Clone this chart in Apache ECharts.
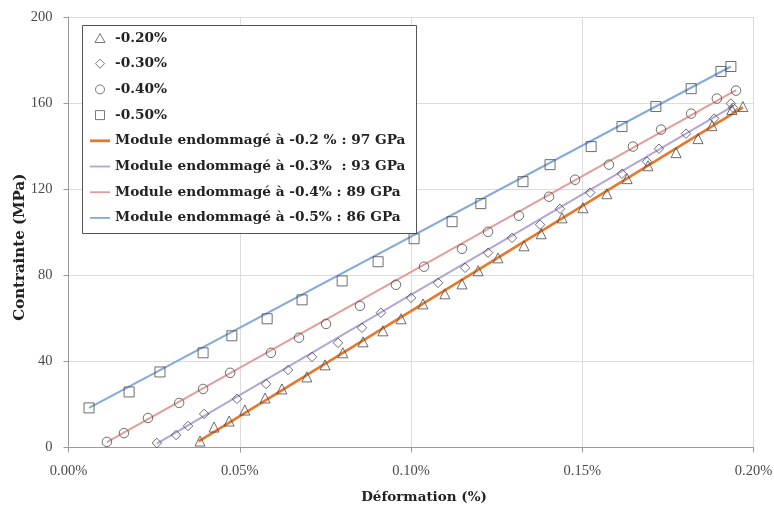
<!DOCTYPE html>
<html>
<head>
<meta charset="utf-8">
<script src="https://cdn.jsdelivr.net/npm/echarts@6/dist/echarts.min.js"></script>
<style>html,body{margin:0;padding:0;background:#fff;}#c{width:774px;height:505px;}</style>
</head>
<body>
<div id="c"></div>
<script>
// strain (%) values
const tri_x = [0.0384,0.0425,0.0469,0.0515,0.0574,0.0623,0.0696,0.0749,0.0801,0.0860,0.0918,0.0971,0.1035,0.1099,0.1149,0.1196,0.1254,0.1330,0.1380,0.1441,0.1502,0.1572,0.1631,0.1692,0.1774,0.1838,0.1879,0.1937,0.1969];
const tri_y = [3.0,9.5,12.3,17.4,23.0,27.2,32.8,38.4,44.0,49.1,54.2,59.8,66.7,71.4,76.0,82.1,88.1,93.7,99.3,106.7,111.4,117.9,124.9,130.9,137.0,143.5,149.5,157.0,158.4];

const dia_x = [0.0258,0.0314,0.0349,0.0396,0.0492,0.0577,0.0641,0.0711,0.0787,0.0857,0.0912,0.1000,0.1079,0.1158,0.1225,0.1295,0.1377,0.1435,0.1523,0.1616,0.1689,0.1724,0.1803,0.1885,0.1934,0.1940];
const dia_y = [2.1,5.8,10.0,15.6,22.6,29.5,36.0,42.1,48.6,55.6,62.6,69.5,76.5,83.5,90.5,97.4,103.5,110.9,118.4,127.2,132.8,138.8,145.8,152.8,159.8,157.9];

const cir_x = [0.0112,0.0162,0.0232,0.0323,0.0393,0.0472,0.0591,0.0673,0.0752,0.0851,0.0956,0.1038,0.1149,0.1225,0.1315,0.1403,0.1479,0.1578,0.1648,0.1730,0.1818,0.1893,0.1949];
const cir_y = [2.6,6.7,13.7,20.7,27.2,34.7,44.0,51.0,57.4,65.8,75.6,84.0,92.3,100.2,107.7,116.5,124.4,131.4,139.8,147.7,155.1,162.1,165.8];

const sq_x = [0.0060,0.0177,0.0267,0.0393,0.0477,0.0580,0.0682,0.0799,0.0904,0.1009,0.1120,0.1204,0.1327,0.1406,0.1526,0.1616,0.1715,0.1818,0.1905,0.1934];
const sq_y = [18.4,25.8,35.1,44.0,51.9,59.8,68.6,77.4,86.3,97.0,104.9,113.3,123.5,131.4,139.8,149.1,158.4,166.7,174.7,177.0];

// fitted modulus lines: start / end points
const fit02_x = [0.0380, 0.1969];
const fit02_y = [2.8, 158.0];
const fit03_x = [0.0258, 0.1940];
const fit03_y = [1.8, 158.6];
const fit04_x = [0.0112, 0.1949];
const fit04_y = [2.5, 166.0];
const fit05_x = [0.0060, 0.1934];
const fit05_y = [18.4, 177.0];

const markerNames = ['-0.20%','-0.30%','-0.40%','-0.50%'];
const lineNames = ['Module endommagé à -0.2 % : 97 GPa','Module endommagé à -0.3%  : 93 GPa','Module endommagé à -0.4% : 89 GPa','Module endommagé à -0.5% : 86 GPa'];
const xTicks = [0, 0.05, 0.10, 0.15, 0.20];
const yTicks = [0, 40, 80, 120, 160, 200];

const zip = (xs, ys) => xs.map((x, i) => [x, ys[i]]);
const lineColors = ['#E8772A', '#B3A3D6', '#E39E9B', '#84AADB'];
const lineWidths = [2.6, 1.8, 2, 2];
const symbols = ['triangle', 'diamond', 'circle', 'rect'];
const iconPaths = [
  'path://M5,0L10,9L0,9Z',
  'path://M5,0L10,5L5,10L0,5Z',
  'path://M0,5A5,5,0,1,1,10,5A5,5,0,1,1,0,5Z',
  'path://M0,0L10,0L10,10L0,10Z'
];
const markerData = [zip(tri_x, tri_y), zip(dia_x, dia_y), zip(cir_x, cir_y), zip(sq_x, sq_y)];
const lineData = [zip(fit02_x, fit02_y), zip(fit03_x, fit03_y), zip(fit04_x, fit04_y), zip(fit05_x, fit05_y)];

const serif = '"Liberation Serif", "DejaVu Serif", serif';
const boldSerif = '"DejaVu Serif", serif';

const series = [];
lineNames.forEach((n, i) => {
  series.push({
    name: n, type: 'line', data: lineData[i], symbol: 'none', z: 2,
    lineStyle: { color: lineColors[i], width: lineWidths[i] },
    itemStyle: { color: lineColors[i] }, animation: false
  });
});
markerNames.forEach((n, i) => {
  series.push({
    name: n, type: 'scatter', data: markerData[i], symbol: symbols[i],
    symbolSize: i === 0 ? 10 : (i === 3 ? 10 : 9.5), z: 3,
    itemStyle: { color: 'rgba(0,0,0,0)', borderColor: '#4a4a4a', borderWidth: 1 },
    animation: false
  });
});

const legendData = [];
markerNames.forEach((n, i) => legendData.push({
  name: n, icon: iconPaths[i],
  itemStyle: { color: 'rgba(0,0,0,0)', borderColor: '#555', borderWidth: 1 }
}));
lineNames.forEach((n, i) => legendData.push({
  name: n, icon: i === 0 ? 'path://M0,0L100,0L100,14L0,14Z' : 'path://M0,0L100,0L100,9L0,9Z',
  itemStyle: { color: lineColors[i], borderWidth: 0 }
}));

const chart = echarts.init(document.getElementById('c'));
chart.setOption({
  animation: false,
  backgroundColor: '#fff',
  grid: { left: 68.5, right: 20.5, top: 17, bottom: 57.5, containLabel: false, outerBoundsMode: 'none' },
  xAxis: {
    type: 'value', min: xTicks[0], max: xTicks[xTicks.length - 1], interval: 0.05,
    name: 'Déformation (%)', nameLocation: 'middle', nameGap: 43, nameMoveOverlap: false,
    nameTextStyle: { fontFamily: boldSerif, fontWeight: 'bold', fontSize: 13.5, color: '#222', padding: [0, 0, 0, 26] },
    axisLine: { lineStyle: { color: '#9a9a9a', width: 1 } },
    axisTick: { show: true, length: 5, lineStyle: { color: '#9a9a9a' } },
    axisLabel: { margin: 16, fontFamily: serif, fontSize: 14.5, color: '#4a4a4a', formatter: v => v.toFixed(2) + '%' },
    splitLine: { show: true, lineStyle: { color: '#dcdcdc', width: 1 } }
  },
  yAxis: {
    type: 'value', min: yTicks[0], max: yTicks[yTicks.length - 1], interval: 40,
    name: 'Contrainte (MPa)', nameLocation: 'middle', nameGap: 41, nameRotate: 90, nameMoveOverlap: false,
    nameTextStyle: { fontFamily: boldSerif, fontWeight: 'bold', fontSize: 15, color: '#222', padding: [0, 30, 0, 0] },
    axisLine: { show: true, lineStyle: { color: '#9a9a9a', width: 1 } },
    axisTick: { show: true, length: 5, lineStyle: { color: '#9a9a9a' } },
    axisLabel: { margin: 16, fontFamily: serif, fontSize: 14.5, color: '#4a4a4a' },
    splitLine: { show: true, lineStyle: { color: '#dcdcdc', width: 1 } }
  },
  graphic: { elements: [{
    type: 'rect', left: 82, top: 25, z: 3,
    shape: { width: 334, height: 208 },
    style: { fill: '#fff', stroke: '#555', lineWidth: 1 }
  }] },
  legend: {
    orient: 'vertical', left: 90, top: 30, padding: 0,
    itemWidth: 20, itemHeight: 9, itemGap: 9.7, z: 5,
    selectedMode: false,
    textStyle: { fontFamily: boldSerif, fontWeight: 'bold', fontSize: 13.7, color: '#222', lineHeight: 16 },
    data: legendData
  },
  series: series
});
</script>
</body>
</html>
